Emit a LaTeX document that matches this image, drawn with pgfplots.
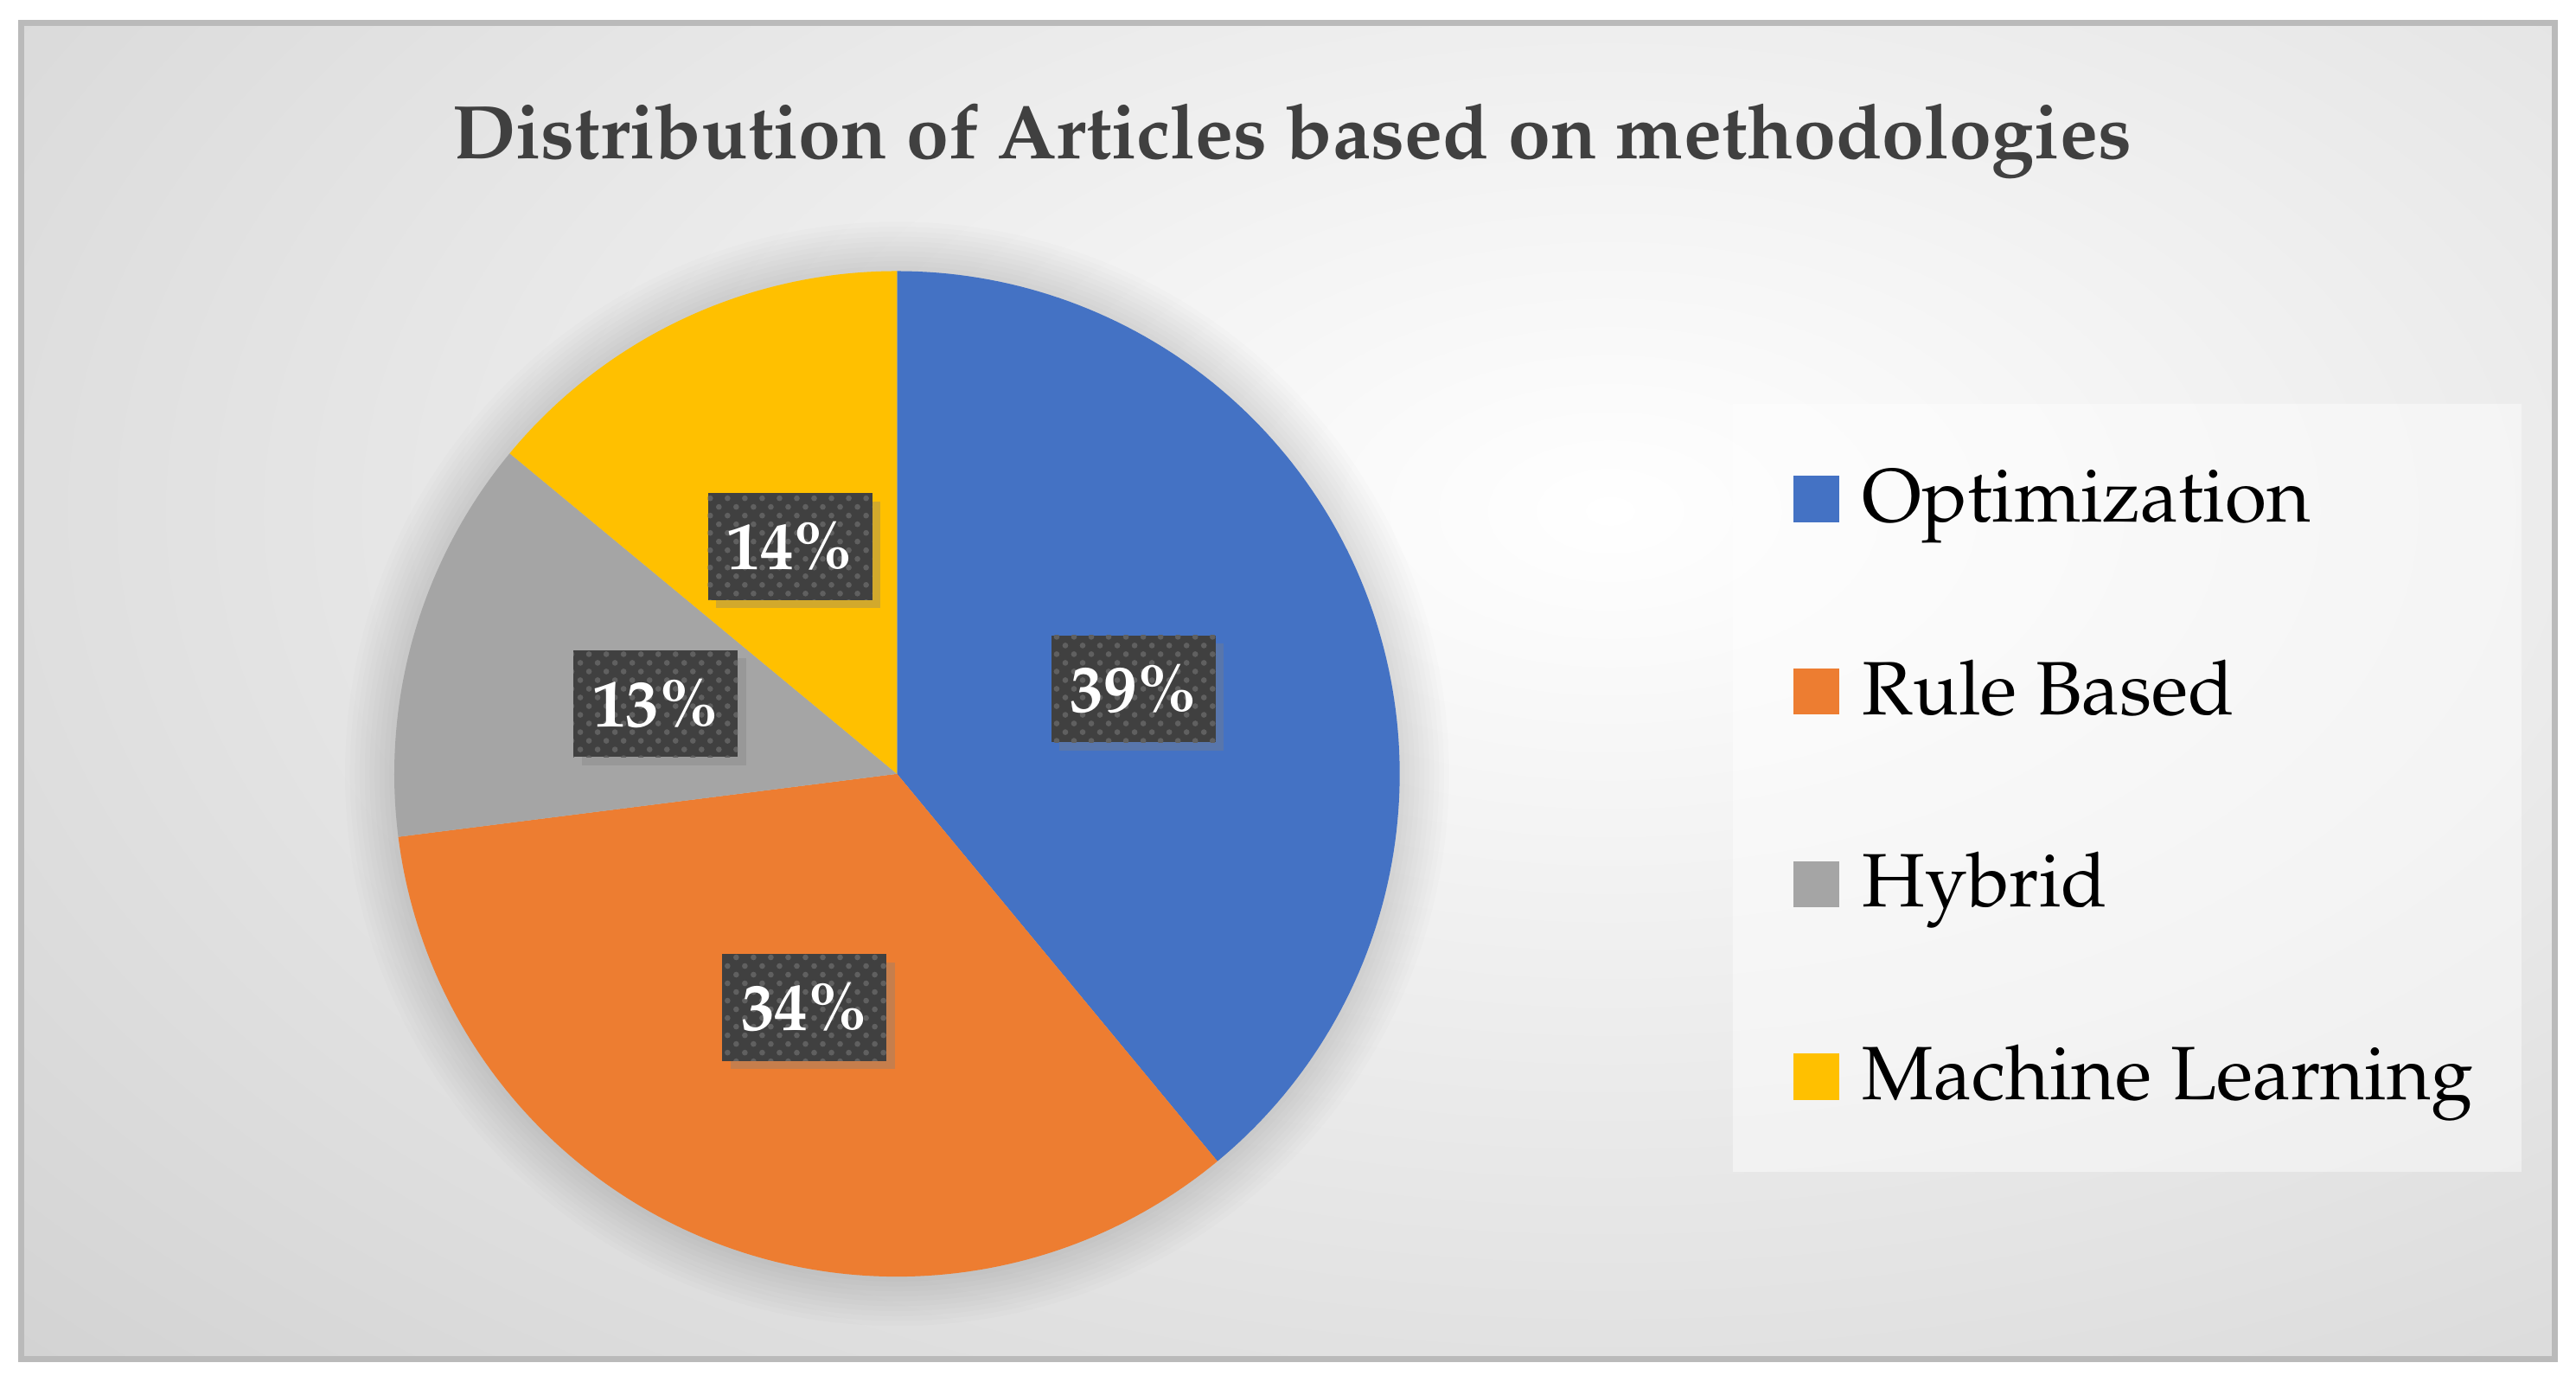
\documentclass[border=0pt]{standalone}
\usepackage[T1]{fontenc}
\usepackage{mathpazo}
\usepackage{pgfplots}
\usepackage{pgfplotstable}
\pgfplotsset{compat=1.18}
\usetikzlibrary{patterns,shadows}

\definecolor{optblue}{RGB}{68,114,196}
\definecolor{ruleorange}{RGB}{237,125,49}
\definecolor{hybgray}{RGB}{165,165,165}
\definecolor{mlgold}{RGB}{255,192,0}
\definecolor{titlegray}{RGB}{64,64,64}
\definecolor{lblbox}{RGB}{64,64,64}
\definecolor{lbldot}{RGB}{96,96,96}

% share of articles per methodology (%)
\pgfplotstableread{
label value
Optimization 39
{Rule Based} 34
Hybrid 13
{Machine Learning} 14
}\piedata

\begin{document}
\begin{tikzpicture}[
  lbl/.style={fill=lblbox, text=white, font=\bfseries\fontsize{11.6}{13}\selectfont,
    minimum width=1.0cm, minimum height=0.65cm, inner sep=0pt,
    postaction={pattern=crosshatch dots, pattern color=lbldot},
    drop shadow={shadow xshift=0.05cm, shadow yshift=-0.05cm, opacity=0.35}}]
% values -> slice angles, clockwise from 12 o'clock
\pgfplotstablegetelem{0}{value}\of\piedata \let\vA\pgfplotsretval
\pgfplotstablegetelem{1}{value}\of\piedata \let\vB\pgfplotsretval
\pgfplotstablegetelem{2}{value}\of\piedata \let\vC\pgfplotsretval
\pgfplotstablegetelem{3}{value}\of\piedata \let\vD\pgfplotsretval
\pgfmathsetmacro\total{\vA+\vB+\vC+\vD}
\pgfmathsetmacro\aA{90}
\pgfmathsetmacro\aB{\aA-360*\vA/\total}
\pgfmathsetmacro\aC{\aB-360*\vB/\total}
\pgfmathsetmacro\aD{\aC-360*\vC/\total}
\pgfmathsetmacro\aE{\aD-360*\vD/\total}
% label positions at half radius, mid angle
\pgfmathsetmacro\xA{0.5*cos((\aA+\aB)/2)}\pgfmathsetmacro\yA{0.5*sin((\aA+\aB)/2)}
\pgfmathsetmacro\xB{0.5*cos((\aB+\aC)/2)}\pgfmathsetmacro\yB{0.5*sin((\aB+\aC)/2)}
\pgfmathsetmacro\xC{0.5*cos((\aC+\aD)/2)}\pgfmathsetmacro\yC{0.5*sin((\aC+\aD)/2)}
\pgfmathsetmacro\xD{0.5*cos((\aD+\aE)/2)}\pgfmathsetmacro\yD{0.5*sin((\aD+\aE)/2)}
\pgfmathtruncatemacro\pA{round(100*\vA/\total)}
\pgfmathtruncatemacro\pB{round(100*\vB/\total)}
\pgfmathtruncatemacro\pC{round(100*\vC/\total)}
\pgfmathtruncatemacro\pD{round(100*\vD/\total)}

\useasboundingbox (0,0) rectangle (15.68,8.41);
\fill[white] (0,0) rectangle (15.68,8.41);
% chart area with radial gradient
\begin{scope}
  \clip (0.13,0.14) rectangle (15.55,8.27);
  \fill[black!25] (0.13,0.14) rectangle (15.55,8.27);
  \shade[inner color=white, outer color=black!25] (9.8,5.3) ellipse (19cm and 11cm);
\end{scope}
\draw[black!27, line width=1pt] (0.13,0.14) rectangle (15.55,8.27);
% legend panel
\fill[white, opacity=0.45] (10.55,1.28) rectangle (15.35,5.95);
% soft shadow round the pie
\foreach \r in {3.09,3.12,3.15,3.18,3.21,3.24,3.27,3.30,3.33,3.36}
  \fill[black, opacity=0.011] (5.46,3.70) circle (\r cm);

\node[anchor=base, text=titlegray, font=\bfseries\fontsize{13.17}{15}\selectfont]
  at (7.865,7.445) {Distribution of Articles based on methodologies};

\begin{axis}[
  at={(5.46cm,3.70cm)}, anchor=origin,
  x=3.06cm, y=3.06cm,
  xmin=-1.1, xmax=1.1, ymin=-1.1, ymax=1.1,
  hide axis, clip=false,
  legend image code/.code={\fill[#1] (0cm,-0.14cm) rectangle (0.28cm,0.14cm);},
  legend style={at={(1.3096,0.7882)}, anchor=north west, draw=none, fill=none,
    inner sep=0pt, row sep=0.652cm,
    font=\fontsize{13.1}{15}\selectfont,
    nodes={inner sep=0pt, text height=0.4cm, text depth=0.12cm},
    /tikz/every odd column/.append style={column sep=0.14cm}},
  legend cell align=left,
]
\addplot[draw=none, fill=optblue, domain=\aB:\aA, samples=120, variable=\t]
  ({cos(\t)},{sin(\t)}) -- (axis cs:0,0) -- cycle;
\addlegendentry{Optimization}
\addplot[draw=none, fill=ruleorange, domain=\aC:\aB, samples=120, variable=\t]
  ({cos(\t)},{sin(\t)}) -- (axis cs:0,0) -- cycle;
\addlegendentry{Rule Based}
\addplot[draw=none, fill=hybgray, domain=\aD:\aC, samples=60, variable=\t]
  ({cos(\t)},{sin(\t)}) -- (axis cs:0,0) -- cycle;
\addlegendentry{Hybrid}
\addplot[draw=none, fill=mlgold, domain=\aE:\aD, samples=60, variable=\t]
  ({cos(\t)},{sin(\t)}) -- (axis cs:0,0) -- cycle;
\addlegendentry{Machine Learning}

\node[lbl] at (axis cs:\xA,\yA) {\pA\%};
\node[lbl] at (axis cs:\xB,\yB) {\pB\%};
\node[lbl] at (axis cs:\xC,\yC) {\pC\%};
\node[lbl] at (axis cs:\xD,\yD) {\pD\%};
\end{axis}
\end{tikzpicture}
\end{document}
